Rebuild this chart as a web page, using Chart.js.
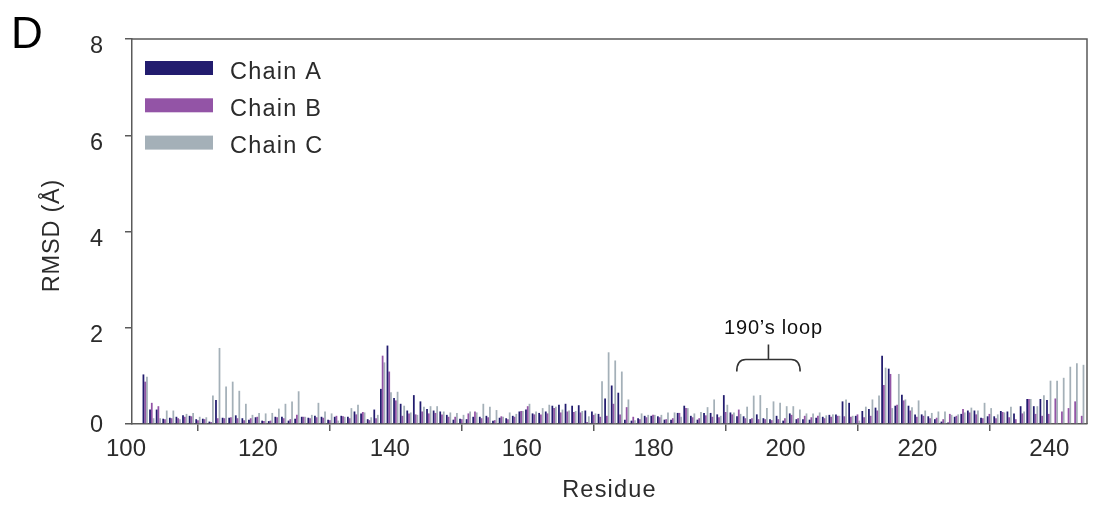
<!DOCTYPE html>
<html>
<head>
<meta charset="utf-8">
<script src="https://cdn.jsdelivr.net/npm/chart.js@4"></script>
<style>
  html, body { margin: 0; padding: 0; background: #fff; }
</style>
</head>
<body>
<canvas id="chart" width="1096" height="506"></canvas>
<script>
// residue numbers (categories)
const residues = [
  102,103,104,105,106,107,108,109,110,111,112,113,114,115,116,117,118,119,120,121,
  122,123,124,125,126,127,128,129,130,131,132,133,134,135,136,137,138,139,140,141,
  142,143,144,145,146,147,148,149,150,151,152,153,154,155,156,157,158,159,160,161,
  162,163,164,165,166,167,168,169,170,171,172,173,174,175,176,177,178,179,180,181,
  182,183,184,185,186,187,188,189,190,191,192,193,194,195,196,197,198,199,200,201,
  202,203,204,205,206,207,208,209,210,211,212,213,214,215,216,217,218,219,220,221,
  222,223,224,225,226,227,228,229,230,231,232,233,234,235,236,237,238,239,240,241,
  242,243,244
];

// RMSD (Å) per residue
const chainA = [
  1.03,0.30,0.30,0.11,0.13,0.15,0.18,0.17,0.10,0.11,0.05,0.50,0.13,0.13,0.18,0.12,0.09,0.14,0.07,0.06,
  0.15,0.15,0.07,0.11,0.15,0.13,0.17,0.15,0.09,0.15,0.17,0.15,0.26,0.22,0.10,0.30,0.73,1.63,0.54,0.42,
  0.28,0.60,0.47,0.31,0.28,0.26,0.19,0.09,0.11,0.10,0.15,0.15,0.17,0.07,0.13,0.12,0.17,0.26,0.30,0.22,
  0.23,0.26,0.38,0.40,0.42,0.38,0.39,0.28,0.26,0.21,0.53,0.80,0.65,0.09,0.07,0.12,0.17,0.17,0.16,0.09,
  0.09,0.23,0.38,0.17,0.09,0.23,0.23,0.20,0.60,0.24,0.16,0.16,0.10,0.20,0.12,0.10,0.17,0.07,0.22,0.10,
  0.10,0.09,0.13,0.15,0.19,0.20,0.47,0.44,0.17,0.27,0.31,0.34,1.42,1.15,0.38,0.61,0.38,0.20,0.20,0.16,
  0.10,0.05,0.03,0.15,0.21,0.28,0.28,0.13,0.16,0.16,0.27,0.26,0.22,0.37,0.52,0.37,0.52,0.50,0,0,
  0,0,0
];
const chainB = [
  0.88,0.44,0.37,0.10,0.12,0.12,0.15,0.16,0.08,0.10,0.04,0.12,0.12,0.14,0.12,0.08,0.12,0.15,0.06,0.07,
  0.14,0.12,0.10,0.19,0.15,0.12,0.14,0.13,0.08,0.17,0.16,0.12,0.20,0.25,0.08,0.12,1.42,1.09,0.49,0.17,
  0.22,0.20,0.26,0.22,0.23,0.20,0.15,0.15,0.10,0.22,0.26,0.12,0.14,0.08,0.16,0.10,0.15,0.27,0.37,0.20,
  0.20,0.22,0.33,0.24,0.26,0.25,0.24,0.04,0.19,0.15,0.17,0.42,0.20,0.35,0.15,0.10,0.14,0.19,0.14,0.10,
  0.12,0.23,0.33,0.14,0.12,0.18,0.15,0.14,0.25,0.20,0.30,0.12,0.12,0.10,0.10,0.08,0.10,0.12,0.19,0.12,
  0.17,0.14,0.17,0.12,0.15,0.17,0.16,0.15,0.20,0.14,0.17,0.28,0.81,1.04,0.40,0.49,0.28,0.15,0.17,0.12,
  0.13,0.10,0.21,0.17,0.31,0.24,0.20,0.12,0.21,0.12,0.25,0.14,0.10,0.22,0.52,0.21,0.17,0.21,0.53,0.26,
  0.33,0.47,0.17
];
const chainC = [
  0.98,0.12,0.12,0.28,0.28,0.10,0.21,0.23,0.15,0.14,0.59,1.58,0.78,0.88,0.69,0.42,0.19,0.23,0.22,0.23,
  0.32,0.42,0.47,0.68,0.15,0.19,0.44,0.26,0.22,0.07,0.15,0.33,0.40,0.24,0.14,0.19,1.28,0.66,0.67,0.38,
  0.24,0.19,0.36,0.37,0.37,0.26,0.24,0.23,0.19,0.26,0.24,0.42,0.36,0.29,0.15,0.24,0.21,0.27,0.42,0.26,
  0.33,0.40,0.36,0.30,0.28,0.27,0.27,0.16,0.22,0.89,1.49,1.32,1.09,0.51,0.08,0.22,0.19,0.19,0.19,0.24,
  0.24,0.15,0.33,0.22,0.25,0.35,0.51,0.17,0.40,0.24,0.21,0.36,0.59,0.60,0.33,0.47,0.44,0.37,0.37,0.30,
  0.22,0.22,0.24,0.18,0.20,0.17,0.51,0.17,0.07,0.36,0.51,0.59,1.17,0.33,1.04,0.51,0.35,0.49,0.28,0.23,
  0.26,0.26,0.19,0.20,0.24,0.34,0.28,0.44,0.33,0.20,0.24,0.36,0.02,0.26,0.52,0.37,0.60,0.90,0.90,0.96,
  1.19,1.26,1.23
];

const xTicks = [100, 120, 140, 160, 180, 200, 220, 240];
const yTicks = [0, 2, 4, 6, 8];
const seriesNames = ['Chain A', 'Chain B', 'Chain C'];
const seriesColors = ['#221c6e', '#9354a6', '#a4b0b8'];

const axisColor = '#5a5a5a';
const textColor = '#2b2b2b';
const fontFamily = '"Liberation Sans", Arial, Helvetica, sans-serif';

// frame, legend, axis titles, panel letter and the 190's loop brace
const overlay = {
  id: 'overlay',
  beforeDraw(chart) {
    // y tick labels sit just below their ticks in the reference (except 0)
    const ys = chart.scales.y;
    ys.getLabelItems(chart.chartArea).forEach((item, i) => {
      if (item._moved) return;
      item.options.translation[1] += ys.ticks[i].value === 0 ? 2 : 8;
      item._moved = true;
    });
  },
  afterDraw(chart) {
    const { ctx, chartArea: a, scales } = chart;
    const xs = scales.x, ys = scales.y;
    ctx.save();

    // top + right frame lines
    ctx.strokeStyle = axisColor;
    ctx.lineWidth = 1.5;
    ctx.beginPath();
    ctx.moveTo(a.left, a.top);
    ctx.lineTo(a.right, a.top);
    ctx.lineTo(a.right, a.bottom);
    ctx.stroke();

    // legend
    ctx.font = '23.5px ' + fontFamily;
    ctx.letterSpacing = '1.2px';
    ctx.textBaseline = 'alphabetic';
    ctx.textAlign = 'left';
    chart.data.datasets.forEach((ds, i) => {
      const y = 61 + i * 37.3;
      ctx.fillStyle = ds.backgroundColor;
      ctx.fillRect(145, y, 68, 14);
      ctx.fillStyle = textColor;
      ctx.fillText(ds.label, 230, y + 17.5);
    });

    // axis titles
    ctx.textAlign = 'center';
    ctx.fillText('Residue', (a.left + a.right) / 2, 497);
    ctx.save();
    ctx.translate(58.5, (a.top + a.bottom) / 2 + 4);
    ctx.rotate(-Math.PI / 2);
    ctx.letterSpacing = '0.8px';
    ctx.fillText('RMSD (\u00c5)', 0, 0);
    ctx.restore();

    // panel letter
    ctx.letterSpacing = '0px';
    ctx.font = '44px ' + fontFamily;
    ctx.textAlign = 'left';
    ctx.fillStyle = '#000';
    ctx.fillText('D', 11, 48);

    // 190's loop brace
    const x0 = xs.getPixelForValue(191.7);
    const x1 = xs.getPixelForValue(201.3);
    const xm = (x0 + x1) / 2;
    const yb = ys.getPixelForValue(1.34);
    ctx.strokeStyle = '#333';
    ctx.lineWidth = 1.6;
    ctx.beginPath();
    ctx.moveTo(x0, yb + 12);
    ctx.quadraticCurveTo(x0, yb, x0 + 9, yb);
    ctx.lineTo(x1 - 9, yb);
    ctx.quadraticCurveTo(x1, yb, x1, yb + 12);
    ctx.moveTo(xm, yb);
    ctx.lineTo(xm, yb - 15);
    ctx.stroke();
    ctx.font = '20px ' + fontFamily;
    ctx.letterSpacing = '0.8px';
    ctx.textAlign = 'center';
    ctx.fillStyle = '#111';
    ctx.fillText('190\u2019s loop', xm + 5, yb - 26);

    ctx.restore();
  }
};

new Chart(document.getElementById('chart'), {
  type: 'bar',
  data: {
    datasets: seriesNames.map((name, i) => ({
      label: name,
      data: residues.map((r, j) => ({ x: r, y: [chainA, chainB, chainC][i][j] })),
      backgroundColor: seriesColors[i],
      borderWidth: 0
    }))
  },
  options: {
    responsive: false,
    animation: false,
    layout: { padding: { top: 39, right: 9, left: 0, bottom: 0 } },
    datasets: { bar: { categoryPercentage: 0.8, barPercentage: 1.0 } },
    plugins: { legend: { display: false }, tooltip: { enabled: false } },
    scales: {
      x: {
        type: 'linear',
        min: 100,
        max: 244.8,
        offset: false,
        afterBuildTicks(s) { s.ticks = xTicks.map(v => ({ value: v })); },
        afterFit(s) { s.height = 82; },
        grid: { display: true, drawOnChartArea: false, drawTicks: true, tickLength: 7, color: axisColor, lineWidth: 1.5 },
        border: { display: true, color: axisColor, width: 1.5 },
        ticks: { color: textColor, padding: 4, labelOffset: -6, maxRotation: 0, autoSkip: false, font: { size: 24, family: fontFamily } }
      },
      y: {
        min: 0,
        max: 8,
        afterBuildTicks(s) { s.ticks = yTicks.map(v => ({ value: v })); },
        afterFit(s) { s.width = 132; },
        grid: { display: true, drawOnChartArea: false, drawTicks: true, tickLength: 7, color: axisColor, lineWidth: 1.5 },
        border: { display: true, color: axisColor, width: 1.5 },
        ticks: { color: textColor, padding: 22, font: { size: 23.5, family: fontFamily } }
      }
    }
  },
  plugins: [overlay]
});
</script>
</body>
</html>
